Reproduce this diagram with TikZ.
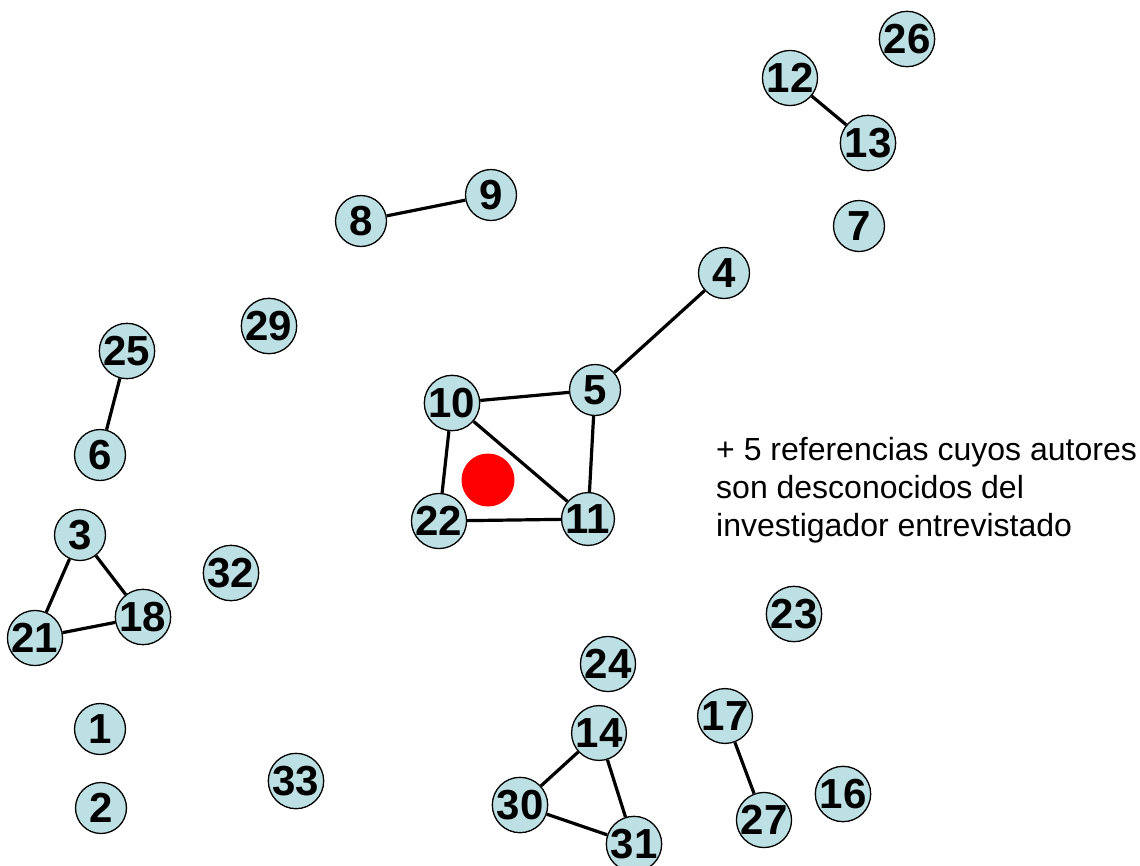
\documentclass[tikz,border=0pt]{standalone}
\usepackage{fontspec}
\setmainfont{Liberation Sans}
\usepackage{tikz}
\usetikzlibrary{positioning}
\definecolor{celeste}{RGB}{188,224,227}
\tikzset{
  autor/.style={shape=circle, draw=black, line width=1.3pt, fill=celeste,
    minimum size=51pt, inner sep=0pt, font=\fontsize{42}{42}\selectfont\bfseries},
  arista/.style={line width=3.2pt}
}

\begin{document}
\begin{tikzpicture}[x=1pt,y=-1pt]
\useasboundingbox (0,0) rectangle (1140,865);
% Vértices
\node[autor] (n1) at (100,729) {1};
\node[autor] (n2) at (101,808) {2};
\node[autor] (n3) at (80,535) {3};
\node[autor] (n4) at (724,273) {4};
\node[autor] (n5) at (595,390) {5};
\node[autor] (n6) at (100,455) {6};
\node[autor] (n7) at (859,226) {7};
\node[autor] (n8) at (361,221) {8};
\node[autor] (n9) at (491,195) {9};
\node[autor] (n10) at (452,403) {10};
\node[autor] (n11) at (588,519) {11};
\node[autor] (n12) at (790,78) {12};
\node[autor] (n13) at (868,143) {13};
\node[autor] (n14) at (599,733) {14};
\node[autor] (n16) at (843,794) {16};
\node[autor] (n17) at (725,716) {17};
\node[autor] (n18) at (143,617) {18};
\node[autor] (n21) at (35,638) {21};
\node[autor] (n22) at (439,521) {22};
\node[autor] (n23) at (794,614) {23};
\node[autor] (n24) at (608,664) {24};
\node[autor] (n25) at (127,351) {25};
\node[autor] (n26) at (907,39) {26};
\node[autor] (n27) at (764,820) {27};
\node[autor] (n29) at (269,326) {29};
\node[autor] (n30) at (520,805) {30};
\node[autor] (n31) at (634,844) {31};
\node[autor] (n32) at (231,573) {32};
\node[autor] (n33) at (296,781) {33};

% Punto rojo
\node[shape=circle, fill=red, minimum size=53pt, inner sep=0pt] (punto) at (488,480) {};

% Aristas
\draw[arista] (n8) -- (n9);
\draw[arista] (n12) -- (n13);
\draw[arista] (n4) -- (n5);
\draw[arista] (n10) -- (n5);
\draw[arista] (n10) -- (n11);
\draw[arista] (n10) -- (n22);
\draw[arista] (n5) -- (n11);
\draw[arista] (n22) -- (n11);
\draw[arista] (n25) -- (n6);
\draw[arista] (n3) -- (n21);
\draw[arista] (n3) -- (n18);
\draw[arista] (n21) -- (n18);
\draw[arista] (n14) -- (n30);
\draw[arista] (n14) -- (n31);
\draw[arista] (n30) -- (n31);
\draw[arista] (n17) -- (n27);

% Nota
\node[anchor=base west, align=left, inner sep=0pt, font=\fontsize{32}{38}\selectfont] (nota) at (716,536)
  {+ 5 referencias cuyos autores\\son desconocidos del\\investigador entrevistado};
\end{tikzpicture}
\end{document}
